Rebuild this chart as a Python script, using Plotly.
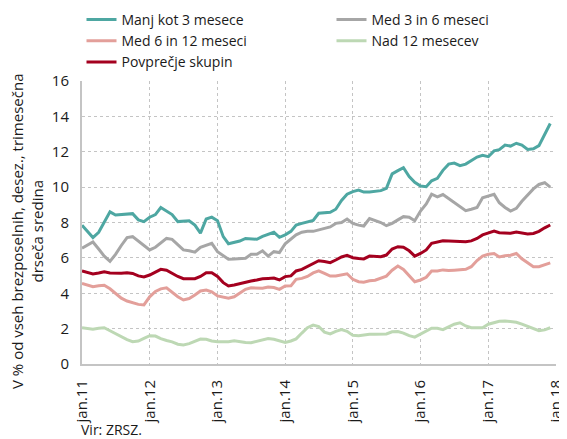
import pandas as pd
import plotly.graph_objects as go

months = pd.date_range("2011-01-01", periods=84, freq="MS")

manj_kot_3 = [7.85, 7.5, 7.15, 7.45, 8.0, 8.6, 8.42, 8.45, 8.45, 8.5, 8.15, 8.05,
              8.3, 8.45, 8.85, 8.65, 8.45, 8.05, 8.08, 8.1, 7.85, 7.4, 8.2, 8.3,
              8.1, 7.2, 6.8, 6.88, 6.95, 7.1, 7.08, 7.05, 7.22, 7.35, 7.45, 7.16,
              7.3, 7.5, 7.86, 7.95, 8.05, 8.12, 8.52, 8.55, 8.58, 8.75, 9.25, 9.6,
              9.75, 9.83, 9.72, 9.72, 9.75, 9.8, 9.93, 10.75, 10.93, 11.1, 10.6, 10.27,
              10.06, 10.02, 10.36, 10.5, 10.95, 11.3, 11.36, 11.21, 11.3, 11.48, 11.7, 11.8,
              11.72, 12.05, 12.12, 12.38, 12.32, 12.48, 12.38, 12.13, 12.17, 12.35, 13.0, 13.6]

med_3_6 = [6.55, 6.75, 6.9, 6.5, 6.1, 5.8, 6.2, 6.7, 7.15, 7.2, 6.95, 6.7,
           6.45, 6.6, 6.85, 7.1, 7.05, 6.75, 6.45, 6.4, 6.32, 6.6, 6.7, 6.82,
           6.35, 6.15, 5.92, 5.93, 5.95, 5.98, 6.2, 6.2, 6.4, 6.1, 6.35, 6.3,
           6.8, 7.05, 7.3, 7.45, 7.5, 7.5, 7.57, 7.65, 7.75, 7.95, 8.0, 8.2,
           7.95, 7.85, 7.8, 8.22, 8.1, 8.0, 7.82, 7.95, 8.15, 8.33, 8.3, 8.1,
           8.65, 9.05, 9.6, 9.45, 9.58, 9.35, 9.1, 8.9, 8.67, 8.75, 8.85, 9.4,
           9.5, 9.59, 9.12, 8.85, 8.65, 8.8, 9.2, 9.55, 9.9, 10.15, 10.25, 10.0]

med_6_12 = [4.56, 4.45, 4.37, 4.42, 4.45, 4.25, 4.0, 3.72, 3.56, 3.45, 3.37, 3.34,
            3.8, 4.1, 4.25, 4.31, 4.05, 3.8, 3.62, 3.7, 3.9, 4.13, 4.18, 4.08,
            3.85, 3.78, 3.72, 3.8, 4.0, 4.22, 4.31, 4.3, 4.28, 4.35, 4.32, 4.22,
            4.41, 4.42, 4.79, 4.84, 4.95, 5.15, 5.27, 5.12, 4.97, 4.97, 5.05, 5.1,
            4.79, 4.65, 4.62, 4.71, 4.74, 4.85, 4.97, 5.3, 5.54, 5.35, 5.0, 4.65,
            4.75, 4.9, 5.26, 5.26, 5.32, 5.28, 5.3, 5.32, 5.35, 5.5, 5.85, 6.1,
            6.2, 6.25, 6.05, 6.12, 6.15, 6.25, 5.95, 5.72, 5.5, 5.5, 5.6, 5.72]

nad_12 = [2.05, 2.0, 1.96, 2.02, 2.05, 1.88, 1.72, 1.52, 1.38, 1.26, 1.3, 1.45,
          1.6, 1.58, 1.43, 1.33, 1.25, 1.12, 1.08, 1.15, 1.3, 1.41, 1.4, 1.3,
          1.26, 1.26, 1.26, 1.31, 1.24, 1.21, 1.2, 1.28, 1.36, 1.44, 1.4, 1.3,
          1.22, 1.3, 1.42, 1.75, 2.05, 2.2, 2.12, 1.8, 1.7, 1.85, 1.95, 1.85,
          1.62, 1.6, 1.65, 1.68, 1.68, 1.69, 1.7, 1.82, 1.83, 1.75, 1.6, 1.52,
          1.68, 1.85, 2.02, 2.02, 1.94, 2.1, 2.25, 2.33, 2.15, 2.05, 2.05, 2.05,
          2.25, 2.35, 2.42, 2.43, 2.4, 2.36, 2.25, 2.12, 1.98, 1.88, 1.93, 2.05]

povprecje = [5.26, 5.18, 5.09, 5.15, 5.22, 5.15, 5.13, 5.13, 5.16, 5.12, 4.98, 4.92,
             5.03, 5.2, 5.35, 5.3, 5.12, 4.95, 4.82, 4.8, 4.82, 4.95, 5.16, 5.16,
             4.95, 4.6, 4.41, 4.47, 4.55, 4.65, 4.69, 4.75, 4.82, 4.84, 4.86, 4.75,
             4.94, 4.98, 5.26, 5.35, 5.5, 5.7, 5.84, 5.8, 5.73, 5.88, 6.05, 6.14,
             6.01, 5.96, 5.94, 6.1, 6.08, 6.07, 6.16, 6.5, 6.63, 6.6, 6.4, 6.1,
             6.25, 6.45, 6.82, 6.88, 6.97, 6.96, 6.95, 6.91, 6.91, 6.96, 7.1, 7.3,
             7.4, 7.52, 7.42, 7.42, 7.39, 7.46, 7.42, 7.35, 7.38, 7.5, 7.7, 7.86]

series_names = ["Manj kot 3 mesece", "Med 3 in 6 meseci", "Med 6 in 12 meseci",
                "Nad 12 mesecev", "Povprečje skupin"]
series_values = [manj_kot_3, med_3_6, med_6_12, nad_12, povprecje]
series_colors = ["#4ea7a2", "#a6a6a6", "#e39f9a", "#bdd8b4", "#a4001f"]

tick_dates = pd.date_range("2011-01-01", "2018-01-01", freq="YS")
tick_labels = ["jan.11", "jan.12", "jan.13", "jan.14", "jan.15", "jan.16", "jan.17", "jan.18"]
y_ticks = [0, 2, 4, 6, 8, 10, 12, 14, 16]

FONT = "Open Sans"
TXT = "#1a1a1a"

# page body has an 8px margin; figure sized to fill the rest of the window
W, H = 559, 431
ML, MR, MT, MB = 74, 11, 73, 75
PW, PH = W - ML - MR, H - MT - MB


def px(x):
    return (x - ML) / PW


def py(y):
    return (H - MB - y) / PH


fig = go.Figure()
for name, vals, col in zip(series_names, series_values, series_colors):
    fig.add_trace(go.Scatter(x=months, y=vals, name=name, mode="lines",
                             line=dict(color=col, width=3)))

fig.update_layout(
    width=W, height=H,
    margin=dict(l=ML, r=MR, t=MT, b=MB, autoexpand=False),
    paper_bgcolor="white", plot_bgcolor="white",
    font=dict(family=FONT, size=14, color=TXT),
    showlegend=True,
    legend=dict(orientation="h", entrywidth=205, entrywidthmode="pixels",
                xref="paper", yref="paper",
                x=px(73.5), y=py(-4), xanchor="left", yanchor="top",
                font=dict(family=FONT, size=14, color=TXT),
                itemwidth=30, tracegroupgap=0, bgcolor="rgba(0,0,0,0)"),
    xaxis=dict(range=["2011-01-01", "2018-01-01"], tickvals=tick_dates, ticktext=tick_labels,
               tickangle=-90, showgrid=True, gridcolor="#c4c4c4", griddash="dot", gridwidth=1,
               showline=True, linecolor="#c4c4c4", linewidth=2, zeroline=False,
               ticks="outside", ticklen=8, tickcolor="rgba(0,0,0,0)",
               tickfont=dict(family=FONT, size=15, color=TXT)),
    yaxis=dict(range=[0, 16], tickvals=y_ticks, showgrid=True, gridcolor="#c4c4c4",
               griddash="dot", gridwidth=1, showline=True, linecolor="#c4c4c4", linewidth=2,
               zeroline=False, ticks="outside", ticklen=8, tickcolor="rgba(0,0,0,0)",
               tickfont=dict(family=FONT, size=15, color=TXT)),
)

fig.add_annotation(text="V % od vseh brezposelnih, desez., trimesečna<br>drseča sredina",
                   xref="paper", yref="paper", x=px(19), y=py(224),
                   xanchor="center", yanchor="middle", textangle=-90, showarrow=False,
                   font=dict(family=FONT, size=15, color=TXT))
fig.add_annotation(text="Vir: ZRSZ.", xref="paper", yref="paper",
                   x=px(71), y=py(421), xanchor="left", yanchor="middle",
                   showarrow=False, font=dict(family=FONT, size=14, color=TXT))

fig.write_html("out.html")
